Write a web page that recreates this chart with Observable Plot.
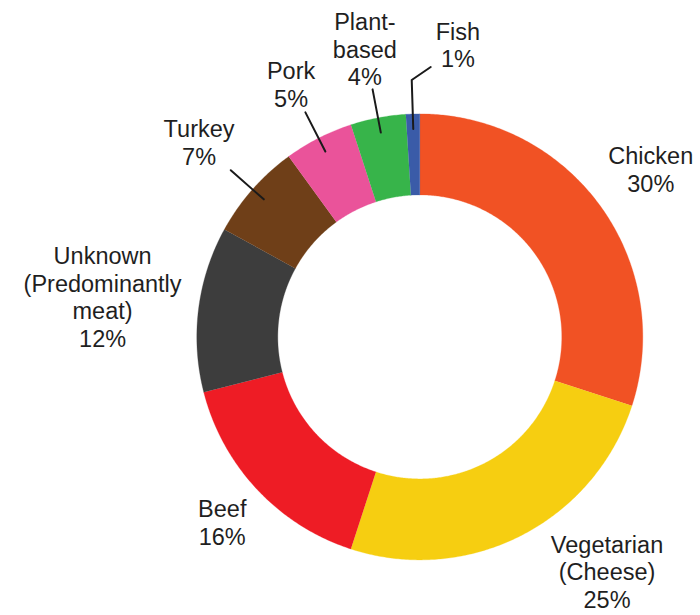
<!DOCTYPE html>
<html><head><meta charset="utf-8">
<script src="https://cdn.jsdelivr.net/npm/d3@7"></script>
<script src="https://cdn.jsdelivr.net/npm/@observablehq/plot@0.6"></script>
<style>html,body{margin:0;padding:0;background:#fff;} #chart svg{display:block;}</style>
</head><body><div id="chart"></div>
<script>
// ---- data ----
const categories = ["Chicken", "Vegetarian (Cheese)", "Beef", "Unknown (Predominantly meat)", "Turkey", "Pork", "Plant-based", "Fish"];
const shares = [30, 25, 16, 12, 7, 5, 4, 1];
const labelTexts = ["Chicken", "Vegetarian\n(Cheese)", "Beef", "Unknown\n(Predominantly\nmeat)", "Turkey", "Pork", "Plant-\nbased", "Fish"];
const sliceColors = ["#f15224", "#f6ce11", "#ee1c25", "#3d3d3d", "#6f3f18", "#ea539a", "#37b44a", "#3a5ba8"];

// ---- layout ----
const W = 700, H = 615, CX = 419.3, CY = 336.4, R_OUT = 223, R_IN = 142;
const FONT_SIZE = 23.5, LINE_H = 1.17, FONT = "Liberation Sans";
const CLEAR = 238, CLEAR_LEADER = 253, LEADER_IN = 208, LEADER_OUT = 252, EDGE = 8;

const arcs = d3.pie().sort(null).value(d => d)(shares);

// slice polygons
const slicePts = [];
arcs.forEach((a, i) => {
  const n = Math.max(2, Math.ceil((a.endAngle - a.startAngle) / (Math.PI / 360)));
  for (let k = 0; k <= n; k++) {
    const t = a.startAngle + (a.endAngle - a.startAngle) * k / n;
    slicePts.push({cat: categories[i], x: R_OUT * Math.sin(t), y: -R_OUT * Math.cos(t)});
  }
  for (let k = n; k >= 0; k--) {
    const t = a.startAngle + (a.endAngle - a.startAngle) * k / n;
    slicePts.push({cat: categories[i], x: R_IN * Math.sin(t), y: -R_IN * Math.cos(t)});
  }
});

// text measuring
const ctx = document.createElement("canvas").getContext("2d");
ctx.font = `${FONT_SIZE}px "${FONT}"`;
function boxDist(cx, cy, a, b) {
  const dx = Math.max(Math.abs(cx) - a, 0), dy = Math.max(Math.abs(cy) - b, 0);
  return Math.hypot(dx, dy);
}

const labels = [], leaderPts = [];
arcs.forEach((a, i) => {
  const text = labelTexts[i] + "\n" + shares[i] + "%";
  const lines = text.split("\n");
  const w = Math.max(...lines.map(l => ctx.measureText(l).width));
  const A = w / 2;
  const B = ((lines.length - 1) * LINE_H * FONT_SIZE + 0.72 * FONT_SIZE) / 2;
  const th = (a.startAngle + a.endAngle) / 2;
  const sx = Math.sin(th), sy = -Math.cos(th);
  const share = shares[i];
  if (share < 2) {
    // elbow leader for tiny slice
    const ex = LEADER_OUT + 5;
    const p1 = {x: LEADER_IN * sx, y: LEADER_IN * sy};
    const p2 = {x: ex * sx, y: ex * sy};
    const p3 = {x: p2.x + 19, y: p2.y - 13};
    [p1, p2, p3].forEach(p => leaderPts.push({id: categories[i], ...p}));
    labels.push({text, x: p3.x + A + 5, y: p3.y - B});
    return;
  }
  const clear = share < 10 ? CLEAR_LEADER : CLEAR;
  let t = 0;
  while (boxDist(t * sx, t * sy, A, B) < clear) t += 0.25;
  let cx = t * sx, cy = t * sy;
  // keep inside canvas vertically, then push outward horizontally
  const top = -CY + EDGE, bottom = H - CY - EDGE;
  if (cy + B > bottom || cy - B < top) {
    cy = cy + B > bottom ? bottom - B : top + B;
    cx = 0;
    const sgn = sx >= 0 ? 1 : -1;
    while (boxDist(cx, cy, A, B) < clear) cx += 0.25 * sgn;
  }
  labels.push({text, x: cx, y: cy});
  if (share < 10) {
    leaderPts.push({id: categories[i], x: LEADER_IN * sx, y: LEADER_IN * sy});
    leaderPts.push({id: categories[i], x: LEADER_OUT * sx, y: LEADER_OUT * sy});
  }
});

const chart = Plot.plot({
  width: W, height: H, margin: 0,
  style: {background: "#fff"},
  x: {domain: [-CX, W - CX], range: [0, W], axis: null},
  y: {domain: [-CY, H - CY], range: [0, H], axis: null},
  color: {domain: categories, range: sliceColors},
  marks: [
    Plot.line(slicePts, {x: "x", y: "y", z: "cat", fill: "cat", stroke: "cat", strokeWidth: 0.3, curve: "linear"}),
    Plot.line(leaderPts, {x: "x", y: "y", z: "id", stroke: "#1a1a1a", strokeWidth: 2}),
    Plot.text(labels, {x: "x", y: "y", text: "text", fontSize: FONT_SIZE, lineHeight: LINE_H, fill: "#1f1f1f", fontFamily: FONT})
  ]
});
document.getElementById("chart").appendChild(chart);
</script>
</body></html>
